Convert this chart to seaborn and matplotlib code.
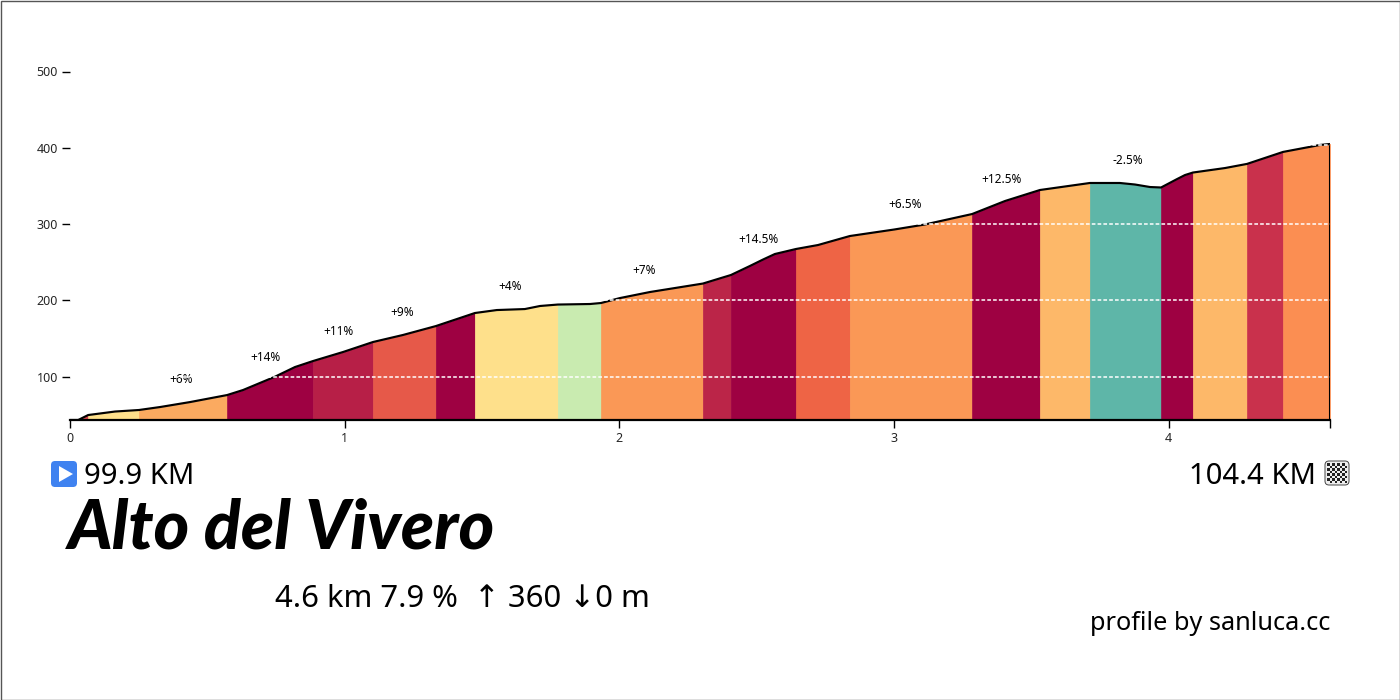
import numpy as np
import pandas as pd
import matplotlib
matplotlib.use("Agg")
import matplotlib.pyplot as plt
from matplotlib.patches import FancyBboxPatch, Polygon, Rectangle
import seaborn as sns

km = [0, 0.03, 0.066, 0.164, 0.251, 0.328, 0.437, 0.572, 0.63, 0.746, 0.819, 0.885, 0.994, 1.103,
      1.212, 1.332, 1.474, 1.554, 1.656, 1.711, 1.776, 1.893, 1.933, 2.002, 2.111, 2.304, 2.406,
      2.475, 2.523, 2.566, 2.643, 2.723, 2.839, 3.0, 3.112, 3.284, 3.404, 3.531, 3.713, 3.822, 3.877,
      3.932, 3.972, 4.03, 4.059, 4.088, 4.205, 4.285, 4.416, 4.55, 4.587]
elevation = [43.3, 43.3, 49.8, 54.4, 56.4, 60.3, 66.8, 76, 82.6, 100, 112.7, 120.6, 132.4, 145.5,
             154.7, 166.4, 183.5, 187.4, 188.7, 192.7, 194.6, 195.3, 196.6, 203.1, 211, 222.1, 233.3,
             245.1, 253.6, 260.8, 267.4, 272.6, 284.4, 292.9, 299.5, 313.2, 330.3, 344.7, 353.9, 353.9, 351.9,
             348.6, 348, 359, 364.3, 367.6, 373.5, 378.9, 394.6, 403.7, 405]

segment_ends = [0.066, 0.251, 0.572, 0.885, 1.103, 1.332, 1.474, 1.776, 1.933, 2.304, 2.406, 2.643,
                2.839, 3.284, 3.531, 3.713, 3.972, 4.088, 4.285, 4.416, 4.587]
segment_colors = ["#d9444d", "#fee08b", "#fbaa60", "#9e0142", "#b71f47", "#e65949", "#9e0142",
                  "#fee08b", "#c9ebb0", "#fa9856", "#bb2548", "#9e0142", "#ee6445", "#fa9856",
                  "#9e0142", "#fdb869", "#5eb6a8", "#9e0142", "#fdb869", "#c9314c", "#fb8e52"]

label_km = [0.404, 0.71, 0.976, 1.209, 1.602, 2.09, 2.508, 3.04, 3.393, 3.851]
label_elev = [97, 125.8, 159.9, 184.8, 218.9, 239.8, 279.2, 326.3, 359.1, 384]
label_text = ["+6%", "+14%", "+11%", "+9%", "+4%", "+7%", "+14.5%", "+6.5%", "+12.5%", "-2.5%"]

x_ticks = [0, 1, 2, 3, 4, 4.587]
x_labels = ["0", "1", "2", "3", "4", ""]
y_ticks = [100, 200, 300, 400, 500]
grid_levels = [100, 200, 300, 404]

sns.set_style("white")
plt.rcParams["font.family"] = ["Noto Sans", "DejaVu Sans"]

W, H = 1400, 700
fig = plt.figure(figsize=(14, 7), dpi=100, facecolor="white")
ax = fig.add_axes([70 / W, 1 - 420 / H, 1260 / W, (420 - 71.5) / H])

df = pd.DataFrame({"km": km, "elevation": elevation})
start = 0.03
for end, col in zip(segment_ends, segment_colors):
    m = (df.km >= start) & (df.km <= end)
    ax.fill_between(df.km[m], 43.3, df.elevation[m], facecolor=col, edgecolor=col, lw=0.5, zorder=1)
    start = end

line_ax = sns.lineplot(data=df, x="km", y="elevation", color="black", lw=1.55, estimator=None,
                       sort=False, ax=ax, zorder=3)
line_ax.lines[-1].set_solid_joinstyle("round")
ax.plot([4.587, 4.587], [43.3, 405], color="black", lw=1.5, zorder=3)

for g in grid_levels:
    ax.axhline(g, color="white", lw=1.1, ls=(0, (2.4, 1.4)), zorder=4)

ax.set_xlim(0, 4.587)
ax.set_ylim(43.3, 500)
ax.set_xticks(x_ticks)
ax.set_xticklabels(x_labels)
ax.set_yticks(y_ticks)
ax.set_xlabel("")
ax.set_ylabel("")
ax.tick_params(axis="x", length=5.5, width=1, labelsize=9, pad=3, color="black", bottom=True)
ax.tick_params(axis="y", length=5.8, width=1, labelsize=9, pad=3, color="black", left=True)
for s in ["left", "top", "right"]:
    ax.spines[s].set_visible(False)
ax.spines["bottom"].set_linewidth(1.6)
ax.spines["bottom"].set_color("black")
ax.spines["bottom"].set_zorder(5)
ax.patch.set_alpha(0)

for x, y, t in zip(label_km, label_elev, label_text):
    ax.text(x, y, t, fontsize=8.5, ha="center", va="center", color="black")

def px(x, y):
    return x / W, 1 - y / H

fig.text(*px(84, 477), "99.9 KM", fontsize=21, va="center", ha="left", color="black")
fig.text(*px(1316, 477), "104.4 KM", fontsize=21, va="center", ha="right", color="black")
fig.text(*px(68, 529), "Alto del Vivero", fontsize=49, fontweight=900, fontstyle="italic",
         family=["Lato", "Roboto", "DejaVu Sans"], va="center", ha="left", color="black")
fig.text(*px(275, 599), "4.6 km 7.9 %  \u2191 360 \u21930 m", fontsize=22.3, va="center", ha="left", color="black")
fig.text(*px(1330, 623), "profile by sanluca.cc", fontsize=18.2, va="center", ha="right", color="black")

# full-figure overlay in pixel units for the frame and the two icons
ov = fig.add_axes([0, 0, 1, 1], zorder=5)
ov.set_xlim(0, W)
ov.set_ylim(H, 0)
ov.axis("off")
ov.patch.set_alpha(0)
ov.add_patch(Rectangle((0.5, 0.5), W - 1, H - 1, fill=False, ec="#555555", lw=1))
ov.add_patch(FancyBboxPatch((54, 464), 20, 20, boxstyle="round,pad=3,rounding_size=4", fc="#3f82f0", ec="none"))
ov.add_patch(Polygon([(59, 466), (59, 482), (73, 474)], closed=True, fc="white", ec="none"))
ov.add_patch(FancyBboxPatch((1327, 463), 20, 20, boxstyle="round,pad=2,rounding_size=4", fc="#eeeeee", ec="#444444", lw=0.7))
cell = 2.5
for i in range(8):
    for j in range(8):
        if (i + j) % 2 == 0:
            ov.add_patch(Rectangle((1327 + i * cell, 463 + j * cell), cell, cell, fc="#222222", ec="none"))

fig.savefig("out.png", dpi=100, facecolor="white")
